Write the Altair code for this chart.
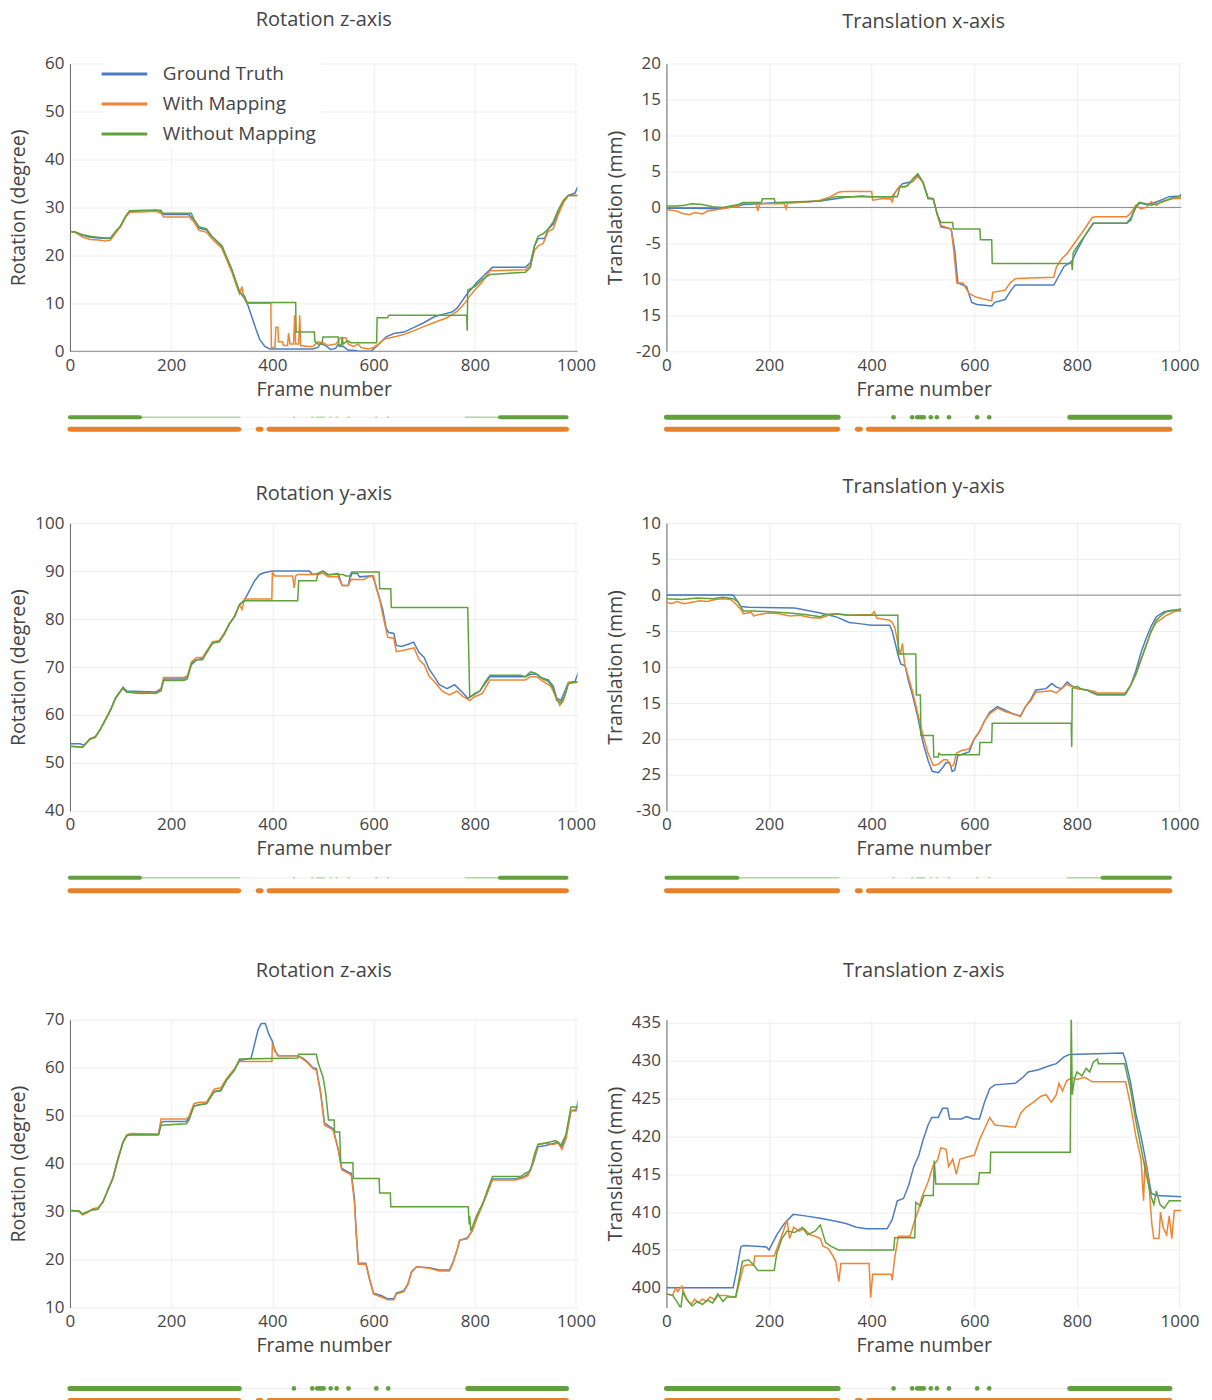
import altair as alt
import pandas as pd

SERIES = ["Ground Truth", "With Mapping", "Without Mapping"]
COLORS = ["#4c7dc0", "#ee8535", "#5fa23c"]
STRIP_GREEN = "#62a03e"
STRIP_GREEN_LIGHT = "#b5d6a0"
STRIP_ORANGE = "#e8822a"
TXT = "#444444"
FONT = "Open Sans"

# ---------------- Panel 1: Rotation z-axis (top) ----------------
P1_GT = [(0,25),(10,24.9),(25,24.2),(40,23.8),(55,23.6),(70,23.5),(80,23.6),(90,24.8),(100,26),(110,28),(118,29.2),
         (130,29.2),(150,29.3),(170,29.4),(180,29.2),(185,28.5),(235,28.5),(240,28),(248,27),(255,25.7),(270,25.3),
         (280,24),(290,23),(300,22),(310,19.5),(320,17),(328,14.5),(335,12.5),(345,11),(352,9.5),(360,7),(368,4.5),
         (375,2.5),(385,1),(395,0.5),(480,0.5),(490,0.8),(495,1.6),(505,1.2),(515,0.4),(525,0.6),(530,1.5),(540,1.0),
         (545,0.6),(550,0.2),(560,0.2),(570,0),(595,0),(600,0.5),(608,1.2),(615,2.0),(625,3.0),(640,3.7),(660,4.0),
         (680,5.0),(700,6.0),(720,7.2),(740,7.8),(755,8.2),(765,9.0),(775,10.5),(785,12.0),(795,13.2),(805,14.5),
         (815,15.5),(825,16.5),(835,17.5),(900,17.5),(910,18.5),(918,22),(925,23.5),(938,23.5),(945,25.5),(955,26.5),
         (965,29),(975,31),(985,32.5),(998,33),(1003,34.2)]
P1_WM = [(0,25),(10,24.8),(25,23.8),(40,23.3),(55,23.2),(70,23.0),(80,23.2),(90,24.6),(100,26),(110,28),(118,29.0),
         (150,29.1),(170,29.2),(180,28.8),(185,28.0),(235,28.0),(245,27),(255,25.2),(270,24.8),(280,23.5),(290,22.5),
         (300,21.5),(310,19),(320,16.5),(328,14),(335,12),(340,13.5),(343,11.5),(350,10),(397,10),(398,0.8),(405,0.8),
         (407,5.0),(411,5.0),(412,2.0),(420,2.0),(422,1.2),(430,1.2),(432,3.8),(435,1.5),(442,1.5),(444,7.5),(446,1.5),
         (452,1.5),(454,7.5),(456,1.2),(470,1.0),(480,1.0),(490,2.0),(500,1.8),(510,1.2),(525,1.5),(535,2.8),(545,2.8),
         (550,1.5),(560,1.0),(570,1.5),(575,0.8),(590,0.5),(600,0.8),(610,1.5),(620,2.5),(640,3.0),(660,3.5),(680,4.3),
         (700,5.2),(720,6.0),(745,7.0),(765,8.3),(780,10),(790,11.5),(800,12.8),(815,14.5),(830,16.8),(900,17.0),
         (910,18),(918,21),(925,22),(935,22.5),(945,25),(955,25.5),(965,28.5),(975,31),(985,32.5),(1003,32.5)]
P1_WO = [(0,25),(10,24.9),(25,24.3),(40,24.0),(55,23.8),(70,23.6),(80,23.6),(90,25),(100,26.2),(110,28.2),(118,29.3),
         (150,29.4),(180,29.4),(182,28.8),(240,28.8),(245,27.5),(255,26),(270,25.5),(280,24),(290,23),(300,22),
         (310,19.5),(320,17),(328,14.5),(335,12.3),(345,11.5),(350,10.2),(446,10.2),(447,4.0),(483,4.0),(484,2.0),
         (490,1.5),(498,1.5),(500,3.0),(530,3.0),(532,1.0),(536,1.0),(538,3.0),(540,1.5),(548,2.2),(555,1.8),
         (606,1.8),(607,7.0),(628,7.0),(630,7.5),(784,7.5),(785,4.3),(786,12.8),(800,13.5),(815,15),(830,16.0),
         (900,16.5),(910,17.5),(918,22),(925,24),(935,24.5),(945,25.5),(955,27),(965,29.5),(975,31.5),(985,32.5),
         (1003,32.5)]

# ---------------- Panel 2: Translation x-axis ----------------
P2_GT = [(0,-0.1),(50,-0.1),(100,-0.2),(140,0.2),(150,0.4),(200,0.6),(250,0.7),(300,0.9),(330,1.2),(350,1.4),
         (380,1.6),(400,1.5),(440,1.5),(450,2.5),(460,3.3),(480,3.6),(490,4.5),(500,3.5),(510,1.3),(520,1.2),
         (528,-1.0),(535,-2.7),(555,-3.0),(562,-6),(568,-10.5),(585,-11.0),(595,-13.2),(605,-13.5),(634,-13.7),
         (640,-13.2),(660,-12.8),(672,-11.5),(680,-10.8),(755,-10.8),(765,-9.5),(775,-8.2),(790,-7.5),(800,-6.0),
         (815,-4),(832,-2.2),(897,-2.2),(905,-1.5),(915,0),(922,0.6),(935,0.4),(945,0.5),(960,0.9),(980,1.5),
         (1000,1.6),(1008,2.2)]
P2_WM = [(0,-0.3),(20,-0.5),(30,-0.8),(45,-1.0),(55,-0.7),(70,-0.9),(80,-0.5),(100,-0.3),(140,0.2),(148,0.6),
         (175,0.6),(178,-0.5),(182,0.5),(230,0.5),(233,-0.2),(236,0.6),(280,0.8),(300,1.0),(320,1.5),(335,2.1),
         (345,2.2),(400,2.2),(402,1.0),(420,1.2),(437,1.2),(440,0.8),(445,2.0),(455,3.0),(465,2.8),(480,3.7),
         (490,4.3),(500,3.5),(510,1.3),(520,1.2),(528,-1.0),(535,-2.5),(555,-3.0),(560,-6),(566,-10.5),(578,-10.5),
         (590,-12.0),(605,-12.5),(634,-13.0),(636,-11.8),(660,-11.5),(670,-10.5),(680,-9.9),(755,-9.7),(760,-8.3),
         (772,-7.0),(780,-6.5),(790,-5.5),(800,-4.5),(815,-3),(830,-1.4),(836,-1.3),(897,-1.3),(905,-0.8),(915,0.3),
         (925,-0.2),(935,0.0),(945,0.8),(955,0.3),(965,0.8),(985,1.2),(1008,1.3)]
P2_WO = [(0,0.2),(20,0.2),(35,0.3),(50,0.5),(70,0.4),(90,0.1),(110,0),(140,0.4),(150,0.7),(185,0.7),(187,1.2),
         (210,1.2),(212,0.7),(300,0.9),(330,1.5),(450,1.5),(455,2.8),(470,3.0),(480,4.0),(490,4.7),(500,3.5),
         (510,1.2),(520,1.2),(528,-1.0),(535,-2.1),(558,-2.1),(559,-3.0),(611,-3.0),(612,-4.5),(634,-4.5),
         (635,-7.8),(790,-7.8),(791,-8.7),(793,-6.3),(800,-5.5),(815,-4),(832,-2.2),(897,-2.2),(905,-1.8),
         (915,0.2),(922,0.7),(935,0.5),(945,0.3),(960,0.6),(975,1.0),(990,1.4),(1008,1.5)]

# ---------------- Panel 3: Rotation y-axis ----------------
P3_GT = [(0,54),(20,54),(28,53.7),(40,55),(50,55.5),(60,57),(70,59),(80,61),(90,63.5),(100,65),(105,65.8),(112,65),
         (170,64.8),(180,65.5),(185,67.5),(225,67.5),(232,68),(240,70.5),(250,71.5),(262,71.8),(270,73),(282,75),
         (295,75.5),(305,77),(315,79),(325,80.5),(335,83),(345,84),(355,86),(365,88),(375,89.3),(385,89.7),(400,90),
         (473,90),(480,89.3),(490,89.5),(500,90),(510,89.2),(530,89.5),(538,87),(550,87),(555,89.5),(568,89.5),
         (572,88.8),(598,89),(603,87.5),(610,85),(618,82),(625,78),(630,77.2),(640,77),(645,74.5),(655,74.3),
         (670,74.8),(679,75.2),(690,73),(700,72),(710,69.5),(720,68),(730,66.3),(745,65.5),(760,66.3),(768,65.5),
         (775,64.8),(786,63.5),(795,64),(810,65),(820,66.5),(830,68),(900,68),(910,68.5),(922,68.5),(930,67.8),
         (945,67.3),(955,66),(962,63.5),(970,63),(978,65),(985,66.8),(998,67),(1005,69)]
P3_WM = [(0,53.5),(25,53.3),(40,55),(50,55.5),(60,57),(70,59),(80,61),(90,63.5),(100,65),(105,65.5),(112,64.8),
         (170,64.5),(180,65.3),(185,67.8),(225,67.8),(232,68.2),(240,71),(250,72),(262,72),(270,73.3),(282,75.3),
         (295,75.5),(305,77),(315,79),(325,80.5),(335,83),(340,82),(345,84.2),(399,84.2),(400,89.8),(405,89),
         (440,89),(443,86.5),(446,89),(450,89.3),(490,89.3),(500,89.6),(510,88.8),(530,88.8),(538,87),(550,87),
         (556,88.3),(580,88.2),(590,88.8),(600,89),(605,86.5),(612,84),(620,80),(628,76.2),(640,76),(645,73.2),
         (660,73.5),(680,74),(690,71.5),(700,70.5),(710,68),(720,67),(735,65),(750,64.2),(765,65),(775,64),
         (790,63),(800,63.8),(815,64.5),(830,67.3),(900,67.3),(910,68),(922,68),(935,67),(950,66),(960,64),
         (968,62),(975,63),(985,66.8),(1005,66.8)]
P3_WO = [(0,53.5),(25,53.3),(40,55),(50,55.3),(60,57),(70,59),(80,61),(90,63.5),(100,65),(105,65.6),(112,64.8),
         (140,64.5),(170,64.6),(180,65),(185,67.2),(225,67.2),(232,67.5),(240,70.8),(250,71.5),(262,71.5),(270,73),
         (282,75),(295,75.2),(305,76.8),(315,79),(325,80.5),(335,83),(345,83.8),(450,83.8),(452,88.0),(487,88.0),
         (490,89.5),(500,90),(510,89.3),(540,89.3),(545,89),(556,89),(557,89.8),(611,89.8),(612,86.3),(634,86.3),
         (635,82.4),(786,82.4),(790,63.7),(800,64.5),(810,65),(820,66.8),(830,68.3),(890,68.3),(900,68),(910,69),
         (920,68.7),(935,67.5),(945,67),(955,65.5),(962,63),(970,62.5),(978,64),(985,66.5),(1005,67)]

# ---------------- Panel 4: Translation y-axis ----------------
P4_GT = [(0,0),(130,0),(138,-0.8),(145,-1.6),(160,-1.7),(250,-1.8),(280,-2.2),(300,-2.5),(330,-3.0),(356,-3.8),
         (380,-4.0),(400,-4.2),(435,-4.2),(440,-5.0),(447,-7.0),(452,-8.5),(457,-9.6),(465,-9.8),(472,-12),
         (480,-14),(490,-17),(500,-20.5),(510,-23),(518,-24.5),(530,-24.7),(538,-24),(545,-23.3),(552,-23.3),
         (557,-24.5),(562,-24.3),(568,-22.3),(590,-21.8),(600,-20),(610,-19),(620,-17.5),(630,-16.3),(645,-15.5),
         (660,-16),(675,-16.5),(690,-16.8),(700,-15.5),(710,-14.5),(720,-13.2),(740,-13),(751,-12.3),(760,-12.8),
         (770,-13),(781,-12.1),(790,-12.6),(800,-13),(820,-13.2),(840,-13.8),(895,-13.8),(905,-12.5),(915,-10.5),
         (925,-8),(935,-6),(945,-4.3),(955,-3.0),(970,-2.3),(985,-2.1),(1005,-2.2)]
P4_WM = [(0,-1.0),(10,-1.2),(20,-0.9),(35,-1.2),(50,-1.0),(65,-0.8),(80,-0.9),(95,-0.6),(110,-0.5),(125,-0.6),
         (135,-1.2),(145,-2.0),(150,-2.6),(165,-2.4),(170,-2.9),(180,-2.7),(200,-2.5),(220,-2.6),(240,-2.9),
         (260,-2.8),(280,-3.1),(300,-3.2),(315,-2.8),(330,-2.6),(350,-2.8),(400,-2.7),(405,-2.3),(410,-3.2),
         (435,-3.5),(440,-3.8),(445,-4.5),(452,-7),(456,-8.3),(460,-6.7),(464,-9.5),(470,-11),(480,-13.5),
         (490,-16.5),(500,-19.5),(510,-22),(520,-23.7),(530,-23.5),(540,-22.9),(547,-22.9),(555,-23.8),(560,-23.6),
         (565,-22),(575,-21.6),(590,-21.4),(600,-20),(610,-19),(620,-17.5),(630,-16.5),(645,-15.7),(660,-16.2),
         (675,-16.5),(690,-16.9),(700,-15.5),(710,-14.7),(720,-13.5),(750,-13.3),(760,-13.6),(780,-12.4),
         (790,-12.7),(800,-13),(820,-13.2),(835,-13.4),(840,-13.6),(895,-13.6),(905,-12.5),(915,-11),(925,-9),
         (935,-7),(945,-5),(955,-3.8),(965,-3.3),(975,-2.8),(990,-2.3),(1005,-2.0)]
P4_WO = [(0,-0.5),(30,-0.6),(60,-0.4),(90,-0.5),(110,-0.3),(130,-0.5),(140,-1.0),(150,-2.2),(170,-2.2),
         (200,-2.3),(240,-2.5),(270,-2.7),(300,-3.0),(310,-2.7),(330,-2.6),(360,-2.8),(451,-2.8),(452,-8.2),
         (486,-8.2),(487,-13.9),(495,-13.9),(496,-19.5),(520,-19.5),(521,-22.5),(530,-22.5),(531,-22.0),
         (535,-22.2),(610,-22.2),(611,-20.5),(634,-20.5),(635,-17.8),(789,-17.8),(790,-21.1),(791,-13.0),
         (800,-12.7),(810,-13.1),(820,-13.2),(830,-13.6),(840,-13.9),(893,-13.9),(905,-12.5),(915,-11),(925,-9),
         (935,-7),(945,-5),(955,-3.5),(965,-2.8),(975,-2.3),(1005,-1.9)]

# ---------------- Panel 5: Rotation z-axis (bottom) ----------------
P5_GT = [(0,30.2),(18,30.1),(25,29.5),(35,30),(45,30.4),(55,30.5),(65,32),(75,34.5),(85,37),(95,41),(105,44.5),
         (112,45.8),(120,46),(175,46),(180,48.5),(185,48.8),(230,48.8),(235,49.5),(245,52),(255,52.3),(270,52.5),
         (285,55),(298,55.2),(310,57.5),(325,59.5),(335,61.5),(350,61.8),(358,62),(365,65),(372,68),(378,69.2),
         (386,69.2),(393,67),(400,65.5),(405,63.5),(412,62.5),(450,62.5),(460,62),(470,61.2),(480,60),(487,59.8),
         (495,55),(503,48.5),(512,47.8),(520,47.3),(530,43),(537,39),(550,38.2),(556,38),(562,33),(566,25),
         (570,19.3),(585,19.2),(592,16),(600,13),(615,12.5),(628,11.8),(640,11.8),(645,13),(660,13.5),(668,15),
         (675,17.5),(685,18.5),(710,18.3),(730,17.8),(750,17.8),(757,19.5),(765,22),(770,24),(785,24.5),(795,26),
         (805,29),(815,31.5),(825,34),(835,36.8),(880,36.8),(895,37.2),(905,37.8),(915,40),(925,43.5),(940,43.8),
         (955,44.2),(965,44.5),(972,43.5),(980,45.5),(990,51),(1000,51),(1005,53.5)]
P5_WM = [(0,30.2),(18,30),(25,29.3),(35,29.8),(45,30.6),(55,30.8),(65,32),(75,34.5),(85,37),(95,41),(105,44.5),
         (112,46),(120,46.3),(175,46.2),(180,49.3),(230,49.3),(235,49.8),(245,52.5),(255,52.8),(270,52.8),
         (285,55.5),(298,55.8),(310,57.8),(325,59.8),(335,61.3),(399,61.3),(400,64.8),(405,63.8),(410,62.5),
         (450,62.5),(460,61.8),(470,61),(480,59.8),(487,59.5),(495,55),(503,48),(512,47.5),(520,47),(530,43),
         (537,38.7),(550,38),(556,37.5),(562,32),(566,25),(570,19),(585,19),(592,15.8),(600,12.8),(615,12.2),
         (628,11.6),(640,11.6),(645,12.8),(660,13.3),(668,14.8),(675,17.3),(685,18.5),(710,18.2),(730,17.6),
         (750,17.6),(757,19.3),(765,22),(770,24),(785,24.3),(795,26),(805,28.8),(815,31.3),(825,34),(835,36.6),
         (880,36.6),(895,37),(905,37.5),(915,40),(925,44),(940,44.3),(955,44),(965,44.3),(972,43),(980,45),
         (990,51),(1005,51.5)]
P5_WO = [(0,30.2),(18,30.1),(25,29.5),(35,30),(45,30.4),(55,30.5),(65,32),(75,34.5),(85,37),(95,41),(105,44.5),
         (112,45.8),(120,46),(175,46),(180,48),(230,48.3),(235,49),(245,52),(255,52.2),(270,52.5),(285,55),
         (298,55.3),(310,57.5),(325,59.5),(335,61.8),(450,62),(452,62.8),(487,62.8),(490,61.2),(500,58),(505,55),
         (511,49.1),(522,49.1),(523,46.6),(533,46.6),(535,40.2),(559,40.2),(560,36.9),(611,36.9),(612,33.9),
         (633,33.9),(634,31),(787,31),(789,27.3),(790,29),(792,26),(796,27),(800,28.2),(805,29.5),(815,31.5),
         (825,34.5),(835,37.3),(890,37.3),(900,38),(910,38.5),(918,42),(925,44),(940,44.3),(960,44.8),(970,43.8),
         (980,46),(990,51.8),(1005,51.8)]

# ---------------- Panel 6: Translation z-axis ----------------
P6_GT = [(0,400),(130,400),(136,402),(145,405.4),(150,405.6),(195,405.4),(200,405),(215,407),(230,408.5),
         (247,409.7),(270,409.5),(300,409.2),(330,408.8),(350,408.5),(370,408),(390,407.8),(430,407.8),(440,409),
         (450,411.5),(462,411.8),(472,413.5),(482,416),(492,417.5),(500,419.5),(510,421.5),(517,422.5),(530,422.5),
         (538,423.7),(548,423.7),(552,422.3),(575,422.3),(585,422.6),(598,422.3),(610,422.3),(620,424.5),
         (630,426.3),(640,426.8),(680,427),(695,427.8),(705,428.5),(725,428.8),(745,429.3),(760,429.6),(775,430.5),
         (785,430.8),(890,431),(895,430),(905,427),(915,423),(925,420),(935,416.5),(945,412.5),(955,412.2),
         (1010,412.0)]
P6_WM = [(0,399.2),(12,399),(18,400),(22,399.5),(25,399.8),(30,400.2),(35,399.2),(40,398.5),(48,397.8),(55,398.5),
         (62,398),(70,398.5),(78,398.2),(85,398.8),(95,398.4),(100,399),(115,399),(130,398.8),(135,398.8),
         (150,402.8),(155,403),(170,403),(172,404.2),(210,404.2),(220,406),(228,407.5),(235,409),(240,406.5),
         (248,408),(258,407.5),(268,407.8),(280,407),(290,406.8),(300,406.5),(305,405.5),(315,405.2),(322,404.5),
         (330,403.5),(336,400.8),(340,403.2),(395,403.2),(398,398.7),(402,401.8),(438,401.8),(440,401),(445,404),
         (452,406.8),(475,406.8),(482,408.5),(490,410),(498,412),(510,414),(520,416.2),(528,416.8),(535,418.5),
         (545,418.3),(550,416),(558,417),(565,415),(572,417),(588,417.3),(600,417.5),(610,419.5),(620,421),
         (630,422.5),(640,421.5),(680,421.2),(690,423),(700,423.8),(715,424.5),(730,425.3),(740,425.5),(750,424.5),
         (760,425.5),(765,427),(772,426),(780,427.3),(790,427.8),(800,427.5),(815,427.8),(830,427.2),(895,427.2),
         (905,424),(915,420),(925,417),(930,411.5),(933,417),(940,414),(946,408.5),(950,406.5),(960,406.5),
         (963,410),(968,408),(975,407),(980,409.5),(985,406.5),(990,410.2),(1010,410.2)]
P6_WO = [(0,399.2),(12,399),(20,398.2),(28,397.3),(32,399.4),(40,398.4),(50,397.6),(60,398.2),(70,397.8),
         (80,398.4),(90,398),(100,399.2),(110,398.2),(118,398.8),(135,398.8),(148,403.5),(160,403.7),(170,403),
         (178,402.3),(210,402.3),(215,404.5),(225,406.5),(235,407.5),(250,407.3),(265,408),(275,407),(290,407.5),
         (300,408.3),(310,406),(320,405.5),(335,405),(443,405),(445,406.6),(484,406.6),(486,411.3),(495,410.8),
         (502,412.2),(520,412.2),(522,416.8),(525,413.7),(608,413.7),(610,415.2),(631,415.2),(632,417.9),
         (787,417.9),(789,436),(791,425.5),(795,427.5),(800,428.5),(810,428),(818,429),(825,428.5),(832,429.8),
         (840,430.2),(842,429.6),(893,429.6),(905,426),(915,422),(925,418.5),(935,415),(945,412),(950,411),
         (955,412.8),(962,411),(970,410.5),(980,411.5),(990,411.5),(1010,411.5)]

# ---------------- Tracking strips (frames) ----------------
GREEN_TRACKED = [(0, 341), (801, 1000)]
GREEN_DOTS = [451, 488, 498, 503, 507, 511, 525, 537, 561, 617, 641]
GREEN_SOLID_A = [(0, 141), (866, 1000)]
GREEN_THIN_A = [(141, 343), (795, 866)]
ORANGE_TRACKED = [(0, 340), (379, 385), (401, 1000)]

TITLES = ["Rotation z-axis", "Translation x-axis", "Rotation y-axis",
          "Translation y-axis", "Rotation z-axis", "Translation z-axis"]
X_TICKS = [0, 200, 400, 600, 800, 1000]

LEFT_W = 508
RIGHT_W = 515
PLOT_H = 288


def line_panel(series, title, title_offset, ydom, yvals, ytitle, width,
               label_expr="'' + datum.value", zero=False, legend=False):
    x = alt.X("frame:Q", scale=alt.Scale(domain=[0, 1003], nice=False),
              axis=alt.Axis(values=X_TICKS, title="Frame number", labelFlush=False,
                            domain=False, ticks=False, labelPadding=6, titlePadding=7,
                            labelExpr="'' + datum.value"))
    y = alt.Y("value:Q", scale=alt.Scale(domain=ydom, nice=False, zero=False),
              axis=alt.Axis(values=yvals, title=ytitle, labelExpr=label_expr,
                            domain=True, domainColor="#666666", domainWidth=1,
                            ticks=False, labelPadding=6, labelFlush=False,
                            titleX=-51, titleY=PLOT_H / 2,
                            titleAngle=-90, titleAlign="center", titleBaseline="middle"))
    if legend:
        leg = alt.Legend(title=None, orient="none", legendX=37, legendY=-7,
                         direction="vertical", symbolType="M -1.9 0 L 1.9 0",
                         symbolSize=576, symbolStrokeWidth=3, labelFontSize=19,
                         labelColor=TXT, labelFont=FONT, labelOffset=25, rowPadding=6,
                         fillColor="white", padding=4, labelLimit=400)
    else:
        leg = None
    color = alt.Color("series:N", scale=alt.Scale(domain=SERIES, range=COLORS), legend=leg)
    layers = []
    if zero:
        zdf = pd.DataFrame({"frame": [0], "value": [0]})
        layers.append(alt.Chart(zdf).mark_rule(color="#888888", strokeWidth=1).encode(y=y))
    for name, pts in zip(SERIES, series):
        df = pd.DataFrame({"frame": [p[0] for p in pts], "value": [p[1] for p in pts],
                           "series": name, "idx": list(range(len(pts)))})
        layers.append(alt.Chart(df).mark_line(strokeWidth=1.5, clip=True).encode(
            x=x, y=y, color=color, order=alt.Order("idx:Q")))
    return alt.layer(*layers).properties(
        width=width, height=PLOT_H,
        title=alt.TitleParams(title, offset=title_offset, fontSize=20, fontWeight="normal",
                              color=TXT, font=FONT, anchor="middle", frame="group"))


def strip(style, width, height, green_y, orange_y):
    rows_y = alt.Scale(domain=["Without Mapping", "With Mapping"], type="point",
                       range=[green_y, orange_y], padding=0)
    xs = alt.Scale(domain=[0, 1000], nice=False)
    X1 = alt.X("start:Q", scale=xs, axis=None)
    Y1 = alt.Y("row:N", scale=rows_y, axis=None)
    bg = pd.DataFrame({"start": [0, 0], "end": [1000, 1000], "row": ["Without Mapping", "With Mapping"]})
    layers = [alt.Chart(bg).mark_rule(color="#eeeeee", strokeWidth=1).encode(x=X1, x2="end:Q", y=Y1)]
    orange = pd.DataFrame({"start": [a for a, b in ORANGE_TRACKED], "end": [b for a, b in ORANGE_TRACKED],
                           "row": "With Mapping"})
    if style == "dots":
        gthick = pd.DataFrame({"start": [a for a, b in GREEN_TRACKED], "end": [b for a, b in GREEN_TRACKED],
                               "row": "Without Mapping"})
        dots = pd.DataFrame({"frame": GREEN_DOTS, "row": "Without Mapping"})
        layers.append(alt.Chart(gthick).mark_rule(color=STRIP_GREEN, strokeWidth=5, strokeCap="round").encode(
            x=X1, x2="end:Q", y=Y1))
        layers.append(alt.Chart(dots).mark_circle(color=STRIP_GREEN, size=22, opacity=1).encode(
            x=alt.X("frame:Q", scale=xs, axis=None), y=Y1))
    else:
        gthin = pd.DataFrame({"start": [a for a, b in GREEN_THIN_A], "end": [b for a, b in GREEN_THIN_A],
                              "row": "Without Mapping"})
        gthick = pd.DataFrame({"start": [a for a, b in GREEN_SOLID_A], "end": [b for a, b in GREEN_SOLID_A],
                               "row": "Without Mapping"})
        ticks = pd.DataFrame({"start": [f - 2 for f in GREEN_DOTS], "end": [f + 2 for f in GREEN_DOTS],
                              "row": "Without Mapping"})
        layers.append(alt.Chart(gthin).mark_rule(color=STRIP_GREEN_LIGHT, strokeWidth=1.5).encode(
            x=X1, x2="end:Q", y=Y1))
        layers.append(alt.Chart(ticks).mark_rule(color=STRIP_GREEN_LIGHT, strokeWidth=1.5).encode(
            x=X1, x2="end:Q", y=Y1))
        layers.append(alt.Chart(gthick).mark_rule(color=STRIP_GREEN, strokeWidth=4, strokeCap="round").encode(
            x=X1, x2="end:Q", y=Y1))
    layers.append(alt.Chart(orange).mark_rule(color=STRIP_ORANGE, strokeWidth=5, strokeCap="round").encode(
        x=X1, x2="end:Q", y=Y1))
    return alt.layer(*layers).properties(width=width - 11, height=height)


p1 = line_panel([P1_GT, P1_WM, P1_WO], TITLES[0], 25, [0, 60], [0, 10, 20, 30, 40, 50, 60],
                "Rotation (degree)", LEFT_W, zero=True, legend=True)
p2 = line_panel([P2_GT, P2_WM, P2_WO], TITLES[1], 23, [-20, 20], [-20, -15, -10, -5, 0, 5, 10, 15, 20],
                "Translation (mm)", RIGHT_W,
                label_expr="(datum.value < 0 && datum.value > -10) || datum.value == -20 ? '-' + abs(datum.value) : '' + abs(datum.value)",
                zero=True)
p3 = line_panel([P3_GT, P3_WM, P3_WO], TITLES[2], 10, [40, 100], [40, 50, 60, 70, 80, 90, 100],
                "Rotation (degree)", LEFT_W)
p4 = line_panel([P4_GT, P4_WM, P4_WO], TITLES[3], 17, [-30, 10], [-30, -25, -20, -15, -10, -5, 0, 5, 10],
                "Translation (mm)", RIGHT_W,
                label_expr="datum.value == -5 || datum.value == -30 ? '-' + abs(datum.value) : '' + abs(datum.value)",
                zero=True)
p5 = line_panel([P5_GT, P5_WM, P5_WO], TITLES[4], 30, [10, 70], [10, 20, 30, 40, 50, 60, 70],
                "Rotation (degree)", LEFT_W)
p6 = line_panel([P6_GT, P6_WM, P6_WO], TITLES[5], 33, [397.4, 435.4], [400, 405, 410, 415, 420, 425, 430, 435],
                "Translation (mm)", RIGHT_W)

s1 = strip("thin", LEFT_W, 132, 46, 58)
s2 = strip("dots", RIGHT_W, 132, 46, 58)
s3 = strip("thin", LEFT_W, 169, 47, 60)
s4 = strip("thin", RIGHT_W, 169, 47, 60)
s5 = strip("dots", LEFT_W, 80, 61, 73)
s6 = strip("dots", RIGHT_W, 80, 61, 73)

chart = alt.concat(p1, p2, s1, s2, p3, p4, s3, s4, p5, p6, s5, s6,
                   columns=2, spacing={"row": 20, "column": 89}, bounds="flush", align="each"
                   ).resolve_scale(x="independent", y="independent", color="independent").properties(
    padding={"left": 1, "top": 1, "right": 5, "bottom": 5}
).configure(font=FONT, background="white").configure_view(stroke=None).configure_axis(
    gridColor="#eeeeee", gridWidth=1, labelColor=TXT, titleColor=TXT, labelFont=FONT, titleFont=FONT,
    labelFontSize=17, titleFontSize=19.5, titleFontWeight="normal"
)

chart.save("out.html", embed_options={"renderer": "svg", "actions": False})
